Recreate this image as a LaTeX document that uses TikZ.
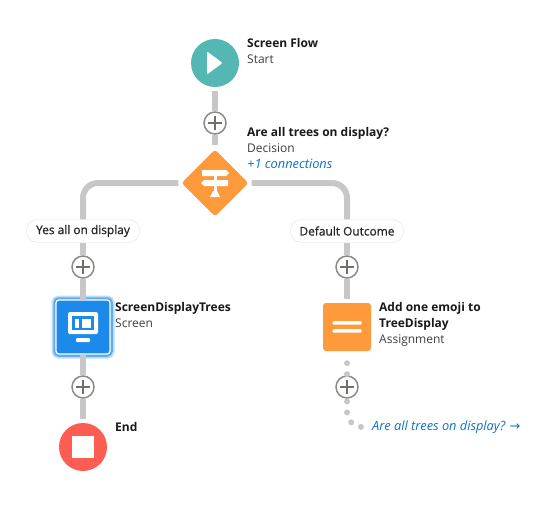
\documentclass[tikz,border=0pt]{standalone}
\usepackage{fontspec}
\setmainfont{Open Sans}
\newfontfamily\arrowfont{DejaVu Sans}
\newfontfamily\pillfont[FakeBold=0.8]{Open Sans}
\usepackage{xcolor}
\usetikzlibrary{shapes.geometric, calc}
\definecolor{flowteal}{HTML}{54B7B3}
\definecolor{floworange}{HTML}{FF9A3C}
\definecolor{flowred}{HTML}{FF5D52}
\definecolor{flowblue}{HTML}{1B8AEB}
\definecolor{flowline}{HTML}{C9C7C5}
\definecolor{flowring}{HTML}{8C8A88}
\definecolor{flowplus}{HTML}{706E6B}
\definecolor{flowlink}{HTML}{0B72C9}
\definecolor{flowkind}{HTML}{3E3E3C}
\newcommand{\flowtitle}[1]{{\bfseries\color{black!90}#1}}
\newcommand{\flowsub}[1]{{\color{flowkind}#1}}
\tikzstyle{icon} = [fill=white, draw=none, sharp corners, shift={(path picture bounding box.center)}]
\tikzstyle{startnode} = [circle, fill=flowteal, minimum size=48pt, inner sep=0pt, path picture={
    \fill[icon, rounded corners=1pt] (-8,-11.5) -- (7.5,0) -- (-8,11.5) -- cycle;}]
\tikzstyle{endnode} = [circle, fill=flowred, minimum size=48pt, inner sep=0pt, path picture={
    \fill[icon] (-11,-11) rectangle (11,11);}]
\tikzstyle{addnode} = [circle, draw=flowring, fill=white, line width=1.5pt, minimum size=22pt, inner sep=0pt, path picture={
    \draw[shift={(path picture bounding box.center)}, draw=flowplus, line width=1.3pt]
        (-6.7,0) -- (6.7,0) (0,-6.7) -- (0,6.7);}]
\tikzstyle{decisionnode} = [diamond, fill=floworange, minimum size=67pt, inner sep=0pt, rounded corners=3pt, path picture={
    \fill[icon] (-13,-13) -- (11,-13) -- (14,-10) -- (11,-7) -- (-13,-7) -- cycle;
    \fill[icon] (-11,-3) -- (13,-3) -- (13,3) -- (-11,3) -- (-14,0) -- cycle;
    \fill[icon] (-1.5,-13) rectangle (1.5,9);
    \fill[icon] (-2,8) -- (2,8) -- (5,14) -- (-5,14) -- cycle;}]
\tikzstyle{screennode} = [rectangle, draw=white, fill=flowblue, line width=1.2pt, minimum size=54pt, inner sep=0pt, rounded corners=3pt,
    preaction={draw=flowblue!30, line width=9pt}, preaction={draw=flowblue!70, line width=5.5pt}, path picture={
    \fill[icon, rounded corners=1.5pt] (-15,-15) rectangle (15,7);
    \fill[icon, fill=flowblue] (-11,-11) rectangle (11,3);
    \fill[icon] (-8,-8) rectangle (-4.5,0.5);
    \fill[icon] (-1,-8) rectangle (8,0.5);
    \fill[icon, rounded corners=1pt] (-7,11) rectangle (7,15);}]
\tikzstyle{assignnode} = [rectangle, fill=floworange, minimum size=48pt, inner sep=0pt, rounded corners=3pt, path picture={
    \fill[icon, rounded corners=1pt] (-14.5,-6) rectangle (14.5,-2.5);
    \fill[icon, rounded corners=1pt] (-14.5,2.2) rectangle (14.5,5.7);}]
\tikzstyle{pill} = [rectangle, draw=black!12, fill=white, rounded corners=11pt, minimum width=113pt, minimum height=23pt, inner sep=0pt,
    font=\pillfont\fontsize{11.9}{14}\selectfont, text=black!85]
\tikzstyle{info} = [anchor=north west, align=left, inner sep=0pt, font=\fontsize{12}{16}\selectfont]
\tikzstyle{line} = [draw=flowline, line width=6pt]
\tikzstyle{dots} = [draw=flowline, line width=6pt, line cap=round, dash pattern=on 0pt off 11pt]

\begin{document}
\begin{tikzpicture}[x=1pt, y=-1pt, node distance=60pt]
    \useasboundingbox (0,0) rectangle (545,513);
    % Nodes
    \node[startnode] (start) at (215,63) {};
    \node[addnode, below of=start] (addstart) {};
    \node[decisionnode, below of=addstart] (decision) {};
    \node[pill, below of=decision, node distance=48pt, xshift=-132pt] (yes) {Yes all on display};
    \node[pill, below of=decision, node distance=48pt, xshift=132pt] (default) {Default Outcome};
    \node[addnode, below of=yes, node distance=36pt] (addyes) {};
    \node[addnode, below of=default, node distance=36pt] (adddefault) {};
    \node[screennode, below of=addyes] (screen) {};
    \node[assignnode, below of=adddefault] (assign) {};
    \node[addnode, below of=screen] (addscreen) {};
    \node[addnode, below of=assign] (addassign) {};
    \node[endnode, below of=addscreen] (finish) {};

    % Labels
    \node[info, at=(start.center), xshift=32pt, yshift=25pt] (startinfo) {\flowtitle{Screen Flow}\\\flowsub{Start}};
    \node[info, at=(decision.center), xshift=32pt, yshift=56pt] (decisioninfo) {\flowtitle{Are all trees on display?}\\\flowsub{Decision}\\{\color{flowlink}\fontsize{12.8}{16}\selectfont\itshape +1 connections}};
    \node[info, at=(screen.center), xshift=32pt, yshift=25pt] (screeninfo) {\flowtitle{ScreenDisplayTrees}\\\flowsub{Screen}};
    \node[info, at=(assign.center), xshift=32pt, yshift=25pt] (assigninfo) {\flowtitle{Add one emoji to}\\\flowtitle{TreeDisplay}\\\flowsub{Assignment}};
    \node[info, at=(finish.center), xshift=32pt, yshift=25pt] (finishinfo) {\flowtitle{End}};
    \node[info, anchor=west, text=flowlink, font=\fontsize{12.8}{16}\selectfont\itshape] (loopback) at (372,427) {Are all trees on display? {\normalfont\arrowfont →}};

    % Edges
    \path[line, shorten <=4pt] (start) -- (addstart);
    \path[line, shorten >=4pt] (addstart) -- (decision);
    \path[line, rounded corners=15pt, shorten <=3pt] (decision.west) -| (yes.north);
    \path[line, rounded corners=15pt, shorten <=3pt] (decision.east) -| (default.north);
    \path[line] (yes) -- (addyes);
    \path[line] (default) -- (adddefault);
    \path[line, shorten >=-1pt] (addyes) -- (screen);
    \path[line, shorten >=4pt] (adddefault) -- (assign);
    \path[line] (screen) -- (addscreen);
    \path[line, shorten >=4pt] (addscreen) -- (finish);
    \path[dots, shorten <=12pt] (assign) -- (addassign);
    \path[dots, rounded corners=15pt, shorten <=2.7pt, shorten >=8pt] (addassign) |- (loopback.west);
\end{tikzpicture}
\end{document}
